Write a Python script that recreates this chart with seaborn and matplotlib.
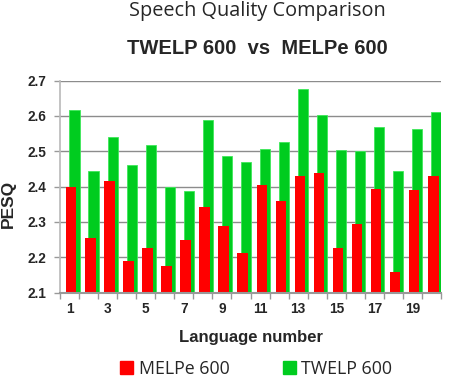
import numpy as np
import pandas as pd
import matplotlib
matplotlib.use("Agg")
import matplotlib.pyplot as plt
from matplotlib.patches import Patch
import seaborn as sns

# Data
languages = list(range(1, 21))
melpe_600 = [2.398, 2.255, 2.415, 2.190, 2.227, 2.174, 2.250, 2.342, 2.289, 2.213,
             2.404, 2.360, 2.429, 2.437, 2.225, 2.295, 2.394, 2.158, 2.391, 2.430]
twelp_600 = [2.616, 2.444, 2.541, 2.461, 2.517, 2.398, 2.388, 2.589, 2.487, 2.470,
             2.506, 2.526, 2.675, 2.603, 2.503, 2.501, 2.569, 2.444, 2.563, 2.610]
y_ticks = [2.1, 2.2, 2.3, 2.4, 2.5, 2.6, 2.7]
x_labels = [1, 3, 5, 7, 9, 11, 13, 15, 17, 19]

red = "#ff0000"
green = "#00cc1f"

sns.set_theme(style="white")
plt.rcParams["font.family"] = ["Liberation Sans", "DejaVu Sans"]

fig = plt.figure(figsize=(4.51, 3.78), dpi=100)
ax = fig.add_axes([0.133, 0.226, 0.845, 0.561])

# horizontal grid drawn under the bars
ax.set_axisbelow(True)
ax.yaxis.grid(True, color="#8c8c8c", linewidth=1.0)

x = np.array(languages, dtype=float)
sns.barplot(x=x + 0.26, y=twelp_600, native_scale=True, width=0.53, color=green,
            saturation=1, edgecolor="#3ee85a", linewidth=0.6, errorbar=None, ax=ax)
sns.barplot(x=x + 0.09, y=melpe_600, native_scale=True, width=0.55, color=red,
            saturation=1, linewidth=0, errorbar=None, ax=ax)

ax.set_ylim(2.1, 2.7)
ax.set_xlim(0.5, 20.5)
ax.set_yticks(y_ticks)
ax.set_yticklabels([f"{v:.1f}" for v in y_ticks], fontsize=9.8, fontweight="bold")

# tick marks between categories, labels on every other category
ax.set_xticks(np.arange(0.5, 21, 1.0))
ax.set_xticklabels([])
ax.set_xticks(x_labels, minor=True)
ax.set_xticklabels([str(v) for v in x_labels], minor=True, fontsize=9.8, fontweight="bold")
ax.tick_params(axis="x", which="major", direction="out", length=4, width=1, color="#999999", bottom=True)
ax.tick_params(axis="x", which="minor", length=0, pad=7)
ax.tick_params(axis="y", direction="out", length=4, width=1, color="#999999", left=True, pad=6)

for side in ["top", "right"]:
    ax.spines[side].set_visible(False)
ax.spines["left"].set_color("#bbbbbb")
ax.spines["bottom"].set_color("#999999")
ax.spines["bottom"].set_linewidth(1.5)

ax.set_xlabel("Language number", fontsize=12, fontweight="bold", labelpad=10)
ax.set_ylabel("PESQ", fontsize=12.5, fontweight="bold")
ax.yaxis.set_label_coords(-0.115, 0.42)

fig.text(0.57, 0.97, "Speech Quality Comparison", ha="center", va="center",
         fontsize=14.3, family=["Open Sans", "DejaVu Sans"])
fig.text(0.57, 0.873, "TWELP 600  vs  MELPe 600", ha="center", va="center",
         fontsize=14.5, fontweight="bold")

handles = [Patch(color=red, label="MELPe 600"), Patch(color=green, label="TWELP 600")]
fig.legend(handles=handles, loc="center", bbox_to_anchor=(0.568, 0.024), ncol=2,
           frameon=False, handlelength=0.75, handleheight=0.75, handletextpad=0.3,
           columnspacing=3.0, prop={"family": ["Open Sans", "DejaVu Sans"], "size": 12.8})

fig.savefig("out.png", dpi=100)
